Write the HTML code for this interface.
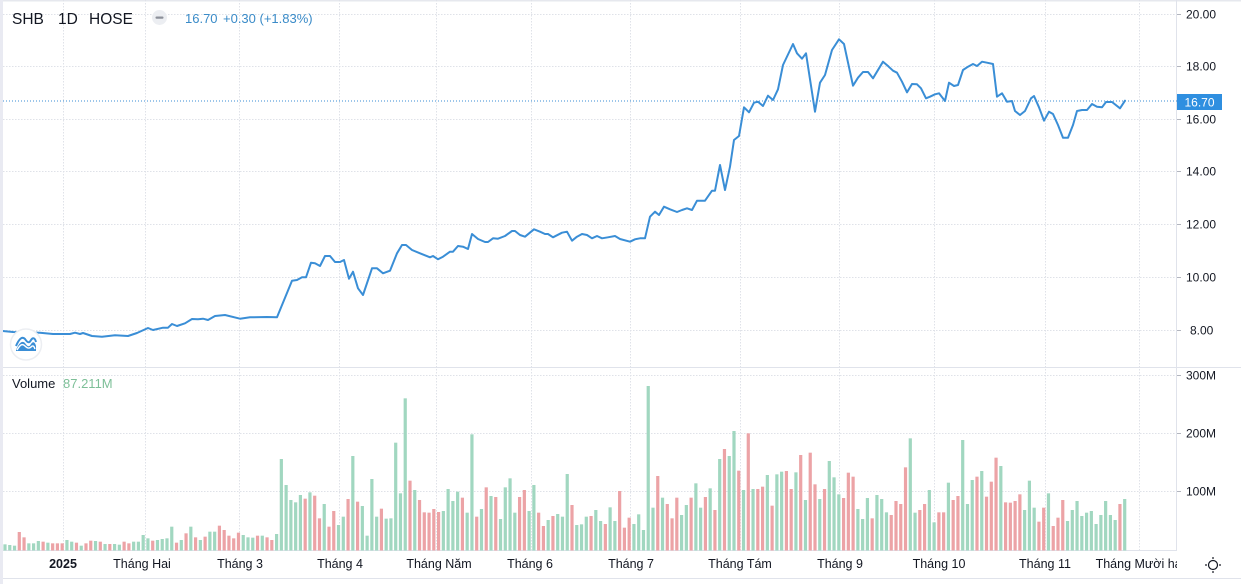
<!DOCTYPE html>
<html>
<head>
<meta charset="utf-8">
<style>
html,body{margin:0;padding:0;background:#fff;}
body{width:1241px;height:584px;overflow:hidden;position:relative;font-family:"Liberation Sans",Arial,sans-serif;}
svg{position:absolute;left:0;top:0;}
.t{font-family:"Liberation Sans",Arial,sans-serif;fill:#131722;}
</style>
</head>
<body>
<svg id="c" width="1241" height="584" viewBox="0 0 1241 584" xmlns="http://www.w3.org/2000/svg">
  <defs>
    <clipPath id="plot"><rect x="0" y="0" width="1177" height="551"/></clipPath>
    <clipPath id="taxis"><rect x="0" y="551" width="1177" height="30"/></clipPath>
  </defs>
  <rect x="0" y="0" width="1241" height="584" fill="#fff"/>
  <!-- top border -->
  <rect x="0" y="0" width="1241" height="1.5" fill="#e6e8ee"/>
  <!-- grid -->
  <g stroke="#dfe2e8" stroke-width="1" stroke-dasharray="1.5 1.5" fill="none">
    <line x1="0" y1="14.5" x2="1177" y2="14.5"/>
    <line x1="0" y1="66.5" x2="1177" y2="66.5"/>
    <line x1="0" y1="119.5" x2="1177" y2="119.5"/>
    <line x1="0" y1="171.5" x2="1177" y2="171.5"/>
    <line x1="0" y1="224.5" x2="1177" y2="224.5"/>
    <line x1="0" y1="277.5" x2="1177" y2="277.5"/>
    <line x1="0" y1="330.5" x2="1177" y2="330.5"/>
    <line x1="0" y1="375.5" x2="1177" y2="375.5"/>
    <line x1="0" y1="433.5" x2="1177" y2="433.5"/>
    <line x1="0" y1="491.5" x2="1177" y2="491.5"/>
    <line x1="63.5" y1="0" x2="63.5" y2="551"/>
    <line x1="145.5" y1="0" x2="145.5" y2="551"/>
    <line x1="239.5" y1="0" x2="239.5" y2="551"/>
    <line x1="339.5" y1="0" x2="339.5" y2="551"/>
    <line x1="436.5" y1="0" x2="436.5" y2="551"/>
    <line x1="531.5" y1="0" x2="531.5" y2="551"/>
    <line x1="630.5" y1="0" x2="630.5" y2="551"/>
    <line x1="740.5" y1="0" x2="740.5" y2="551"/>
    <line x1="839.5" y1="0" x2="839.5" y2="551"/>
    <line x1="934.5" y1="0" x2="934.5" y2="551"/>
    <line x1="1045.5" y1="0" x2="1045.5" y2="551"/>
    <line x1="1139.5" y1="0" x2="1139.5" y2="551"/>
  </g>
  <!-- pane separator -->
  <line x1="0" y1="367.5" x2="1241" y2="367.5" stroke="#e0e3eb" stroke-width="1"/>
  <!-- volume bottom / time axis borders -->
  <line x1="0" y1="550.5" x2="1177" y2="550.5" stroke="#e0e3eb" stroke-width="1"/>
  <line x1="0" y1="578.5" x2="1241" y2="578.5" stroke="#e0e3eb" stroke-width="1"/>
  <!-- right axis border -->
  <line x1="1176.5" y1="0" x2="1176.5" y2="551" stroke="#e0e3eb" stroke-width="1"/>
  <!-- volume bars -->
  <g id="vol" clip-path="url(#plot)"></g>
  <!-- last price dotted line -->
  <line x1="0" y1="101" x2="1177" y2="101" stroke="#3a8ed6" stroke-width="1" stroke-dasharray="1 2"/>
  <!-- price line -->
  <polyline id="pl" clip-path="url(#plot)" fill="none" stroke="#3a8ed6" stroke-width="2" stroke-linejoin="round" stroke-linecap="round" points="0,330.7 13,332 40,332.7 53,334 70,334 75,332.7 80,334 83,333 92,336 102,336.7 115,335.3 128,336 137,333 148,328 153,330 163,327.7 168,327.7 172,324 177,326 185,323.3 192,319 198,319.3 203,318.7 208,320 215,316 225,315 240,318.7 250,317.3 267,317 277,317.3 292,280.7 297,280 302,277.3 306,277.3 311,262.7 315,263.3 320,266 325,256 330,256 335,262 340,262 344,260 349,278.7 353,271.7 358,288.3 363,295 372,268.3 377,268.3 383,273.3 390,270.7 397,253.3 402,245 406,245 412,250 420,253.3 430,257.3 433,256 438,259.3 443,256.7 450,251.7 453,251.7 458,246 463,246.7 468,249 472,234 478,239 485,242 488,242 493,238.3 498,238.7 505,236 512,231 515,231 520,235 525,236.7 534,229.3 540,231.7 545,234 548,234 553,237.3 562,232.7 567,231.7 572,240.7 577,236.7 582,234 587,235 592,238.3 597,236 602,238.3 608,237.3 615,236 620,239 630,241.7 635,239.3 640,238.3 645,238.3 650,216.7 655,211.7 659,215 664,206.7 670,209.3 677,212 682,210 687,208.3 692,210 697,200.7 705,200.7 712,190.7 715,190.7 720,165 725,190 730,166.7 734,140 739,136 744,107.3 749,112.3 754,102.7 758,101.7 763,106 768,95.7 773,100 778,89.3 783,65 793,44 797,53.3 802,58.7 806,53.3 815,111.7 820,82.7 825,75 832,50 839,39.3 844,44 853,85.7 858,77.7 863,72 868,72 873,78.3 883,61.7 888,66 893,70.7 897,72.7 902,81.7 907,92.3 912,84 917,84.3 921,88.3 926,98.3 930,96.7 935,94.3 939,93.3 945,101 949,82.7 954,86 958,85 963,70 968,66.7 973,64 977,66 982,61.7 987,62.7 993,64 997,96.7 1002,93.3 1007,101.7 1012,101 1015,111 1020,115 1025,111 1031,98.3 1034,96 1039,107.3 1044,120.7 1049,111.7 1053,114 1058,125 1063,137.7 1068,137.7 1073,125 1077,111 1082,110 1087,110 1092,104 1097,106.7 1102,107.3 1106,102 1112,102 1120,108.3 1125,100.7"/>
  <!-- left strip -->
  <rect x="0" y="0" width="3" height="584" fill="#e9eaf2"/>

  <!-- price axis ticks -->
  <g stroke="#b2b5be" stroke-width="1">
    <line x1="1177" y1="14.5" x2="1181" y2="14.5"/>
    <line x1="1177" y1="66.5" x2="1181" y2="66.5"/>
    <line x1="1177" y1="119.5" x2="1181" y2="119.5"/>
    <line x1="1177" y1="171.5" x2="1181" y2="171.5"/>
    <line x1="1177" y1="224.5" x2="1181" y2="224.5"/>
    <line x1="1177" y1="277.5" x2="1181" y2="277.5"/>
    <line x1="1177" y1="330.5" x2="1181" y2="330.5"/>
    <line x1="1177" y1="375.5" x2="1181" y2="375.5"/>
    <line x1="1177" y1="433.5" x2="1181" y2="433.5"/>
    <line x1="1177" y1="491.5" x2="1181" y2="491.5"/>
  </g>
  <g class="t" font-size="12">
    <text x="1186" y="18.5">20.00</text>
    <text x="1186" y="70.5">18.00</text>
    <text x="1186" y="123.5">16.00</text>
    <text x="1186" y="175.5">14.00</text>
    <text x="1186" y="228.5">12.00</text>
    <text x="1186" y="281.5">10.00</text>
    <text x="1190" y="334.5">8.00</text>
    <text x="1186" y="379.5">300M</text>
    <text x="1186" y="437.5">200M</text>
    <text x="1186" y="495.5">100M</text>
  </g>
  <!-- last price label -->
  <rect x="1177" y="94" width="45" height="16" fill="#2f8fe0"/>
  <text x="1199.5" y="106.3" text-anchor="middle" font-size="12" fill="#fff" font-family="Liberation Sans, Arial, sans-serif">16.70</text>

  <!-- header -->
  <g class="t" font-size="15.5">
    <text x="12" y="24">SHB</text>
    <text x="58" y="24">1D</text>
    <text x="89" y="24">HOSE</text>
  </g>
  <circle cx="159.5" cy="17.5" r="7.5" fill="#eceef2"/>
  <rect x="155.5" y="16.5" width="8" height="2.2" rx="1" fill="#8c909a"/>
  <g font-size="13" fill="#3a8bc8" font-family="Liberation Sans, Arial, sans-serif">
    <text x="185" y="23">16.70</text>
    <text x="223" y="23">+0.30 (+1.83%)</text>
  </g>

  <!-- volume legend -->
  <text class="t" x="12" y="388" font-size="13">Volume</text>
  <text x="63" y="388" font-size="13" fill="#7dbf98" font-family="Liberation Sans, Arial, sans-serif">87.211M</text>

  <!-- logo -->
  <circle cx="26" cy="344.5" r="15.5" fill="#fff" stroke="#eceef2" stroke-width="1.5"/>
  <path d="M16,350 C19,343 22,340 25,343 C27,346 29,348 31,344 C33,341 35,342 36,346 L36,351 L16,351 Z" fill="#3a8ed6"/>
  <path d="M16,346 C19,339 22,336 25,339 C27,342 29,344 31,340 C33,337 35,338 36,342" fill="none" stroke="#3a8ed6" stroke-width="2"/>
  <path d="M17,350 C20,345 22,343 25,346 C27,348 29,349 31,347 C33,345 34,346 35,349" fill="none" stroke="#fff" stroke-width="1.4"/>

  <!-- time axis labels -->
  <g class="t" font-size="12.5" text-anchor="middle" clip-path="url(#taxis)">
    <text x="63" y="568" font-weight="bold">2025</text>
    <text x="142" y="568">Tháng Hai</text>
    <text x="240" y="568">Tháng 3</text>
    <text x="340" y="568">Tháng 4</text>
    <text x="439" y="568">Tháng Năm</text>
    <text x="530" y="568">Tháng 6</text>
    <text x="631" y="568">Tháng 7</text>
    <text x="740" y="568">Tháng Tám</text>
    <text x="840" y="568">Tháng 9</text>
    <text x="939" y="568">Tháng 10</text>
    <text x="1045" y="568">Tháng 11</text>
    <text x="1140" y="568">Tháng Mười hai</text>
  </g>

  <!-- settings icon -->
  <g stroke="#131722" stroke-width="1.2" fill="none">
    <circle cx="1213" cy="565" r="4.5"/>
    <line x1="1213" y1="557" x2="1213" y2="559"/>
    <line x1="1213" y1="571" x2="1213" y2="573"/>
    <line x1="1205" y1="565" x2="1207" y2="565"/>
    <line x1="1219" y1="565" x2="1221" y2="565"/>
  </g>
</svg>
<script>
(function(){
var s = "g493 g495 g497 r456 r472 g490 g490 g483 r485 g488 r490 r490 r490 g480 g485 r488 g497 r490 r482 g483 r485 g492 r492 g492 g494 r485 r490 g485 g485 g465 g475 r482 g480 g477 g475 g440 r488 g480 r460 g440 r472 g480 r470 g455 g455 r437 r450 r467 r475 r458 g465 g472 g473 r467 g467 r472 r480 g462 g237 g315 g360 g367 g345 r356 g337 r347 r415 g372 r440 r393 g435 g410 r357 g228 r365 g378 g467 g297 g410 r386 g416 g415 g188 " +
"g340 g55 r302 g330 r360 r397 r398 r387 r396 g393 g327 g363 g335 r353 g398 g163 r410 g387 r322 g348 r351 g417 g322 g295 g398 r351 r330 g393 g315 r398 r438 g420 r408 g402 g410 g282 r375 g435 g433 g410 r408 g390 g423 r432 g382 g423 r333 r443 r413 g432 g403 g450 g18 g383 r288 g353 r372 r415 r353 g405 g375 r353 g310 g383 r351 g325 r390 g237 r207 g228 g153 r272 g330 r160 g327 r327 r320 g285 r377 g283 g275 r273 r327 " +
"g277 r225 g360 r218 r313 g357 r327 g243 g292 g343 r354 r278 r290 g387 g417 g354 r415 g345 g357 g397 r405 r363 r372 r262 g175 g398 r390 r372 g330 g427 r397 r397 g308 r360 r348 g180 g372 g300 r290 g273 r350 r305 r233 g258 r367 r368 r363 r343 g390 g302 g383 r425 r383 g340 r438 r413 r360 g423 g390 g363 g408 g398 g393 g432 g405 g363 g405 g420 r372 g357";
var a = s.split(/\s+/);
var g = document.getElementById('vol');
var ns = "http://www.w3.org/2000/svg";
var n = a.length;
var step = (1124.7 - 5) / (n - 1);
for (var i = 0; i < n; i++) {
  var c = a[i].charAt(0), v = parseFloat(a[i].substring(1));
  var top = 380 + v / 3;
  var x = 5 + i * step;
  var r = document.createElementNS(ns, 'rect');
  r.setAttribute('x', (x - 1.6).toFixed(2));
  r.setAttribute('y', top.toFixed(2));
  r.setAttribute('width', '3.2');
  r.setAttribute('height', (550.5 - top).toFixed(2));
  r.setAttribute('fill', c === 'g' ? '#a1d7c0' : '#eca3a6');
  g.appendChild(r);
}
})();
</script>
</body>
</html>
